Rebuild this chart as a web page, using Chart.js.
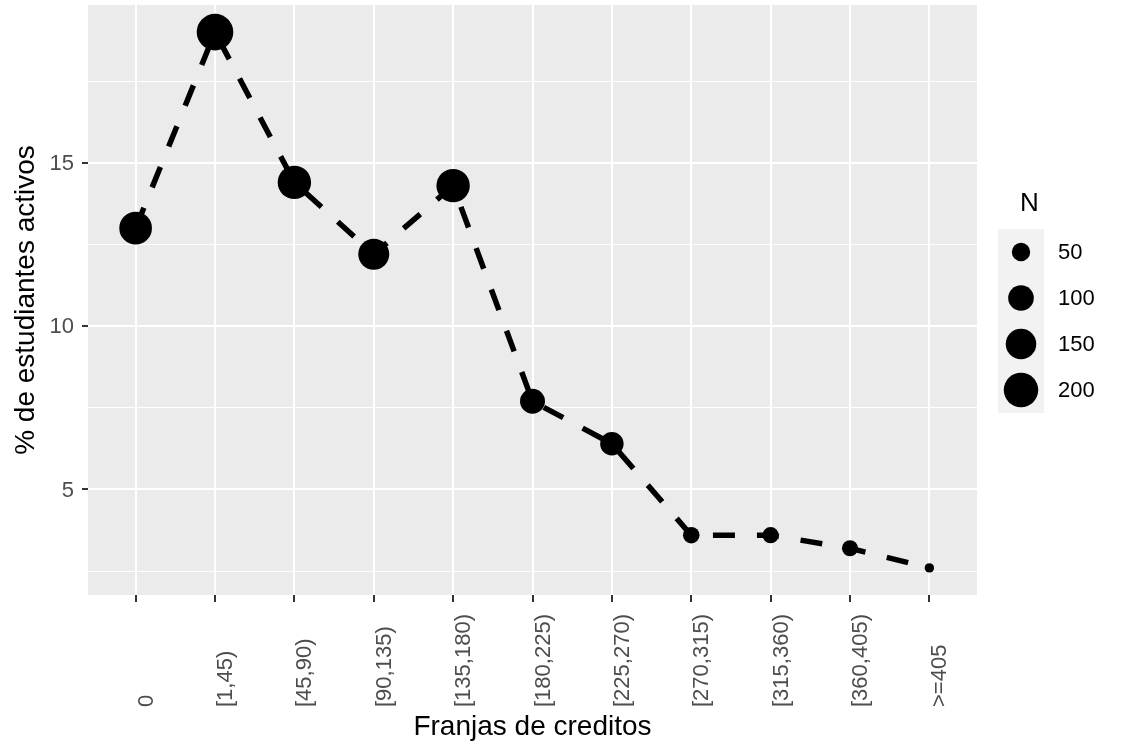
<!DOCTYPE html>
<html>
<head>
<meta charset="utf-8">
<script src="https://cdn.jsdelivr.net/npm/chart.js@4.4.1/dist/chart.umd.min.js"></script>
<style>
  body { margin: 0; background: #fff; }
  canvas { display: block; }
</style>
</head>
<body>
<canvas id="chart" width="1125" height="744"></canvas>
<script>
const categories = ['0', '[1,45)', '[45,90)', '[90,135)', '[135,180)', '[180,225)',
    '[225,270)', '[270,315)', '[315,360)', '[360,405)', '>=405'];
const pctActive = [13.0, 19.0, 14.4, 12.2, 14.3, 7.7, 6.4, 3.6, 3.6, 3.2, 2.6];
const nStudents = [175, 230, 185, 155, 185, 94, 82, 42, 41, 40, 28];
const yTickLabels = [5, 10, 15];
const yMinorTicks = [2.5, 7.5, 12.5, 17.5];
const legendBreaks = [50, 100, 150, 200];

const FONT = '"Liberation Sans", Arial, Helvetica, sans-serif';

// radius grows with sqrt of N (like ggplot's area scale)
const rMin = 4.7, rMax = 18.3;
const nMin = Math.min(...nStudents), nMax = Math.max(...nStudents);
function pointSize(n) {
    const t = Math.max(0, (n - nMin) / (nMax - nMin));
    return rMin + (rMax - rMin) * Math.sqrt(t);
}

const panelBg = {
    id: 'panelBg',
    beforeDraw(chart) {
        const { ctx, chartArea: a } = chart;
        ctx.save();
        ctx.fillStyle = '#EBEBEB';
        ctx.fillRect(a.left, a.top, a.right - a.left, a.bottom - a.top);
        ctx.restore();
    }
};

// axis labels drawn by hand: rotated x labels start-aligned at the bottom
const axisLabels = {
    id: 'axisLabels',
    afterDraw(chart) {
        const { ctx } = chart;
        const xs = chart.scales.x;
        const ys = chart.scales.y;
        ctx.save();
        ctx.font = '22px ' + FONT;
        ctx.fillStyle = '#4D4D4D';
        ctx.textAlign = 'left';
        ctx.textBaseline = 'alphabetic';
        categories.forEach((c, i) => {
            ctx.save();
            ctx.translate(xs.getPixelForValue(i) + 17, 707);
            ctx.rotate(-Math.PI / 2);
            ctx.fillText(c, 0, 0);
            ctx.restore();
        });
        ctx.textAlign = 'right';
        ctx.textBaseline = 'middle';
        yTickLabels.forEach(v => {
            ctx.fillText(String(v), 74, ys.getPixelForValue(v) + 1);
        });
        ctx.restore();
    }
};

const sizeLegend = {
    id: 'sizeLegend',
    afterDraw(chart) {
        const { ctx } = chart;
        const left = 998, top = 229, keyW = 46, keyH = 46;
        ctx.save();
        ctx.fillStyle = '#000';
        ctx.font = '26px ' + FONT;
        ctx.textBaseline = 'alphabetic';
        ctx.fillText('N', 1020, 211);
        ctx.fillStyle = '#F2F2F2';
        ctx.fillRect(left, top, keyW, keyH * legendBreaks.length);
        ctx.font = '22px ' + FONT;
        ctx.textBaseline = 'middle';
        legendBreaks.forEach((b, i) => {
            const cy = top + keyH * i + keyH / 2;
            ctx.fillStyle = '#000';
            ctx.beginPath();
            ctx.arc(left + keyW / 2, cy, pointSize(b), 0, Math.PI * 2);
            ctx.fill();
            ctx.fillText(String(b), left + keyW + 14, cy + 1);
        });
        ctx.restore();
    }
};

new Chart(document.getElementById('chart'), {
    type: 'line',
    data: {
        datasets: [{
            label: '% de estudiantes activos',
            data: pctActive.map((v, i) => ({ x: i, y: v })),
            borderColor: '#000',
            borderWidth: 5.5,
            borderDash: [22, 22],
            tension: 0,
            fill: false,
            pointRadius: ctx => pointSize(nStudents[ctx.dataIndex]),
            pointHoverRadius: ctx => pointSize(nStudents[ctx.dataIndex]),
            pointBackgroundColor: '#000',
            pointBorderWidth: 0
        }]
    },
    options: {
        responsive: false,
        animation: false,
        layout: { autoPadding: false, padding: { left: 0, top: 5, right: 148, bottom: 0 } },
        plugins: {
            legend: { display: false },
            tooltip: { enabled: false }
        },
        scales: {
            x: {
                type: 'linear',
                min: -0.6,
                max: 10.6,
                afterBuildTicks: scale => {
                    scale.ticks = categories.map((c, i) => ({ value: i }));
                },
                afterFit: scale => { scale.height = 149; },
                ticks: { display: false },
                grid: {
                    color: '#FFFFFF',
                    lineWidth: 2,
                    tickColor: '#333333',
                    tickWidth: 2,
                    tickLength: 7
                },
                border: { display: false },
                title: {
                    display: true,
                    text: 'Franjas de creditos',
                    color: '#000',
                    font: { family: FONT, size: 28 },
                    padding: { top: 0, bottom: 0 }
                }
            },
            y: {
                min: 1.77,
                max: 19.83,
                afterBuildTicks: scale => {
                    scale.ticks = [...yMinorTicks, ...yTickLabels]
                        .sort((a, b) => a - b)
                        .map(v => ({ value: v }));
                },
                afterFit: scale => { scale.width = 88; },
                ticks: { display: false },
                grid: {
                    color: '#FFFFFF',
                    lineWidth: ctx => yTickLabels.includes(ctx.tick.value) ? 2 : 1,
                    tickColor: ctx => yTickLabels.includes(ctx.tick.value) ? '#333333' : 'rgba(0,0,0,0)',
                    tickWidth: 2,
                    tickLength: 6
                },
                border: { display: false },
                title: {
                    display: true,
                    text: '% de estudiantes activos',
                    color: '#000',
                    font: { family: FONT, size: 28 },
                    padding: { top: 9, bottom: 0 }
                }
            }
        }
    },
    plugins: [panelBg, axisLabels, sizeLegend]
});
</script>
</body>
</html>
